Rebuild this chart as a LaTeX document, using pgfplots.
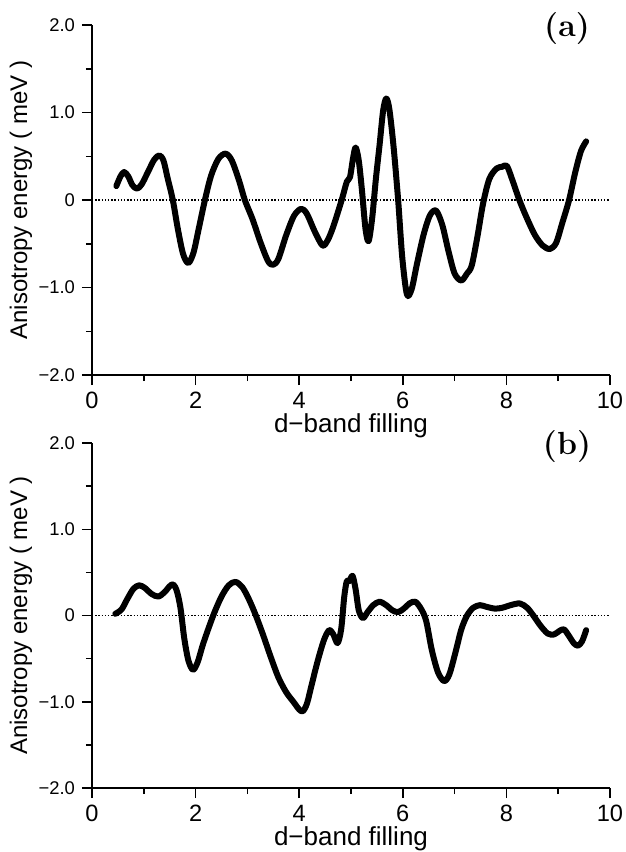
\documentclass[border=0pt]{standalone}
\usepackage{fontspec}
\setsansfont{Liberation Sans}
\usepackage{pgfplots}
\pgfplotsset{compat=1.18}

\pgfplotsset{
  panel/.style={
    scale only axis, width=259pt, anchor=south west, clip=false,
    xmin=0, xmax=10, ymin=-2, ymax=2,
    axis lines=left, axis line style={-, line width=0.75pt},
    tick align=outside, major tick length=5pt, minor tick length=3pt,
    every tick/.style={black, line width=0.75pt},
    xtick={0,2,...,10}, xticklabels={0,2,4,6,8,10},
    minor xtick={1,3,...,9},
    ytick={-2,-1,0,1,2}, yticklabels={−2.0,−1.0,0,1.0,2.0},
    minor ytick={-1.5,-0.5,0.5,1.5},
    xticklabel style={font=\sffamily\fontsize{11.8}{12}\selectfont},
    yticklabel style={font=\sffamily\fontsize{9.2}{10}\selectfont},
    xlabel={d−band filling},
    xlabel style={font=\sffamily\fontsize{13}{13}\selectfont,
      at={(axis description cs:0.5,0)}, anchor=center, yshift=-25.5pt},
    ylabel={Anisotropy energy ( meV )},
    ylabel style={font=\sffamily\fontsize{12}{12}\selectfont,
      at={(axis description cs:-0.137,0.5)}, anchor=center},
  },
  zero/.style={black, line width=0.6pt, dash pattern=on 0.7pt off 0.9pt},
  curve/.style={black, line width=3pt, smooth, line join=round, line cap=round},
}

\begin{document}
\begin{tikzpicture}
\useasboundingbox (0,0) rectangle (313pt,-426pt);

% panel (a)
\begin{axis}[panel, height=175pt, at={(46pt,-187.5pt)}]
\addplot[zero] coordinates {(0,0) (10,0)};
\addplot[curve] coordinates {
(0.47,0.16) (0.55,0.27) (0.62,0.32) (0.70,0.27) (0.78,0.17) (0.87,0.13) (0.96,0.18)
(1.08,0.32) (1.20,0.46) (1.30,0.51) (1.38,0.45) (1.46,0.25) (1.56,0.0) (1.66,-0.34)
(1.76,-0.62) (1.86,-0.72) (1.96,-0.60) (2.06,-0.33) (2.18,0.0) (2.30,0.28) (2.44,0.47)
(2.58,0.53) (2.70,0.45) (2.84,0.22) (2.95,0.0) (3.10,-0.22) (3.25,-0.48) (3.40,-0.70)
(3.50,-0.74) (3.60,-0.67) (3.75,-0.40) (3.90,-0.18) (4.04,-0.10) (4.15,-0.16) (4.30,-0.36)
(4.45,-0.52) (4.55,-0.46) (4.66,-0.30) (4.82,0.0) (4.92,0.21) (4.98,0.26) (5.04,0.48)
(5.09,0.60) (5.15,0.45) (5.21,0.12) (5.28,-0.33) (5.34,-0.47) (5.41,-0.20) (5.48,0.24)
(5.55,0.62) (5.62,1.02) (5.68,1.16) (5.74,1.04) (5.82,0.62) (5.91,0.0) (5.99,-0.66)
(6.08,-1.08) (6.17,-1.02) (6.27,-0.74) (6.40,-0.40) (6.52,-0.18) (6.64,-0.12) (6.76,-0.28)
(6.88,-0.58) (7.00,-0.84) (7.13,-0.92) (7.24,-0.84) (7.33,-0.75) (7.44,-0.42) (7.55,-0.04)
(7.67,0.24) (7.81,0.36) (7.92,0.38) (8.01,0.39) (8.12,0.22) (8.25,0.0) (8.39,-0.20)
(8.55,-0.40) (8.70,-0.52) (8.84,-0.56) (8.96,-0.49) (9.08,-0.26) (9.21,0.0) (9.33,0.32)
(9.44,0.56) (9.54,0.67)
};
\node at (axis cs:9.17,1.96) {\fontsize{16}{16}\selectfont\bfseries (a)};
\end{axis}

% panel (b)
\begin{axis}[panel, height=172.5pt, at={(46pt,-394pt)}]
\addplot[zero] coordinates {(0,0) (10,0)};
\addplot[curve] coordinates {
(0.45,0.02) (0.57,0.07) (0.68,0.19) (0.80,0.31) (0.91,0.35) (1.02,0.32) (1.15,0.25)
(1.28,0.22) (1.40,0.27) (1.50,0.34) (1.57,0.36) (1.64,0.28) (1.71,0.08) (1.78,-0.26)
(1.86,-0.52) (1.95,-0.63) (2.04,-0.54) (2.15,-0.32) (2.34,0.0) (2.50,0.22) (2.64,0.35)
(2.77,0.39) (2.90,0.33) (3.02,0.20) (3.15,0.02) (3.30,-0.22) (3.45,-0.48) (3.60,-0.72)
(3.75,-0.89) (3.90,-1.01) (4.00,-1.09) (4.07,-1.11) (4.15,-1.02) (4.25,-0.78) (4.36,-0.52)
(4.48,-0.28) (4.58,-0.17) (4.66,-0.22) (4.74,-0.32) (4.81,-0.16) (4.87,0.22) (4.92,0.40)
(4.97,0.40) (5.03,0.46) (5.09,0.30) (5.15,0.06) (5.23,-0.03) (5.32,0.04) (5.43,0.12)
(5.55,0.16) (5.68,0.12) (5.80,0.06) (5.91,0.04) (6.02,0.08) (6.13,0.14) (6.24,0.16)
(6.35,0.08) (6.45,-0.06) (6.56,-0.40) (6.68,-0.66) (6.80,-0.76) (6.90,-0.68) (7.02,-0.42)
(7.13,-0.16) (7.24,0.0) (7.36,0.09) (7.49,0.12) (7.62,0.10) (7.78,0.08) (7.92,0.09)
(8.08,0.12) (8.26,0.14) (8.40,0.09) (8.52,0.0) (8.66,-0.12) (8.80,-0.21) (8.92,-0.22)
(9.02,-0.18) (9.11,-0.16) (9.20,-0.23) (9.30,-0.32) (9.38,-0.35) (9.46,-0.30) (9.54,-0.17)
};
\node at (axis cs:9.17,1.96) {\fontsize{16}{16}\selectfont\bfseries (b)};
\end{axis}
\end{tikzpicture}
\end{document}
